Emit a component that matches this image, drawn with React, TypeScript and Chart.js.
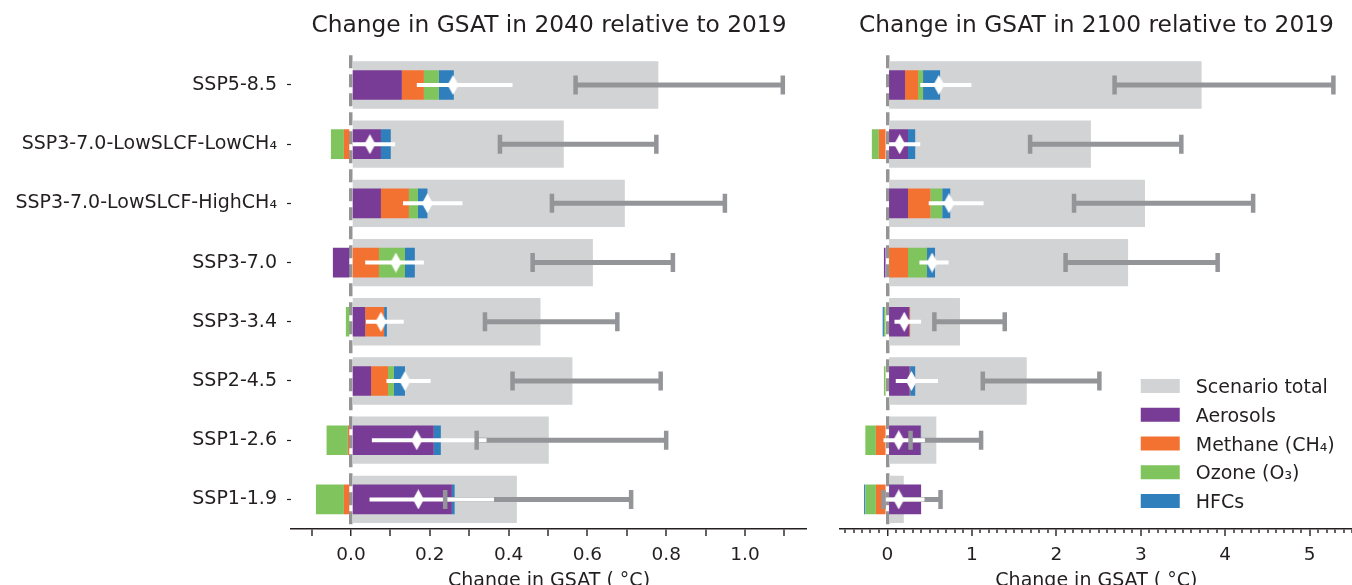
import React, { useEffect, useRef } from 'react';
import { Chart, registerables } from 'chart.js';

Chart.register(...registerables);

// ---------- data ----------
const categories = [
  'SSP5-8.5',
  'SSP3-7.0-LowSLCF-LowCH₄',
  'SSP3-7.0-LowSLCF-HighCH₄',
  'SSP3-7.0',
  'SSP3-3.4',
  'SSP2-4.5',
  'SSP1-2.6',
  'SSP1-1.9',
];

const legendLabels = ['Scenario total', 'Aerosols', 'Methane (CH₄)', 'Ozone (O₃)', 'HFCs'];

// 2040 relative to 2019
const total2040 = [0.78, 0.54, 0.695, 0.614, 0.481, 0.562, 0.502, 0.421];
const aer2040 = [0.129, 0.076, 0.076, -0.046, 0.036, 0.051, 0.21, 0.256];
const ch4_2040 = [0.056, -0.018, 0.071, 0.071, 0.048, 0.043, -0.008, -0.018];
const o3_2040 = [0.038, -0.033, 0.023, 0.066, -0.013, 0.015, -0.054, -0.071];
const hfc2040 = [0.038, 0.025, 0.024, 0.025, 0.007, 0.028, 0.018, 0.007];
const net2040 = [0.259, 0.048, 0.194, 0.114, 0.076, 0.137, 0.167, 0.171];
const slcfLo2040 = [0.167, 0.004, 0.132, 0.036, 0.038, 0.09, 0.053, 0.047];
const slcfHi2040 = [0.41, 0.112, 0.283, 0.185, 0.134, 0.202, 0.344, 0.363];
const totLo2040 = [0.57, 0.378, 0.51, 0.461, 0.34, 0.41, 0.319, 0.239];
const totHi2040 = [1.096, 0.775, 0.949, 0.817, 0.676, 0.786, 0.8, 0.711];

// 2100 relative to 2019
const total2100 = [3.72, 2.41, 3.05, 2.85, 0.86, 1.65, 0.58, 0.195];
const aer2100 = [0.21, 0.245, 0.245, -0.04, 0.26, 0.265, 0.395, 0.4];
const ch4_2100 = [0.154, -0.1, 0.265, 0.245, 0.01, 0.005, -0.135, -0.135];
const o3_2100 = [0.059, -0.083, 0.14, 0.225, -0.04, -0.04, -0.125, -0.125];
const hfc2100 = [0.202, 0.085, 0.095, 0.095, -0.015, 0.06, 0.005, -0.015];
const net2100 = [0.61, 0.146, 0.73, 0.53, 0.2, 0.285, 0.135, 0.135];
const slcfLo2100 = [0.39, 0.0, 0.49, 0.38, 0.085, 0.1, -0.045, -0.03];
const slcfHi2100 = [0.995, 0.39, 1.14, 0.725, 0.4, 0.6, 0.445, 0.44];
const totLo2100 = [2.69, 1.69, 2.21, 2.11, 0.557, 1.13, 0.275, -0.045];
const totHi2100 = [5.28, 3.48, 4.33, 3.91, 1.39, 2.51, 1.11, 0.63];

const titles = ['Change in GSAT in 2040 relative to 2019', 'Change in GSAT in 2100 relative to 2019'];
const xTitle = 'Change in GSAT ( °C)';
const xLabels2040 = ['0.0', '0.2', '0.4', '0.6', '0.8', '1.0'];
const xLabels2100 = ['0', '1', '2', '3', '4', '5'];

// ---------- style ----------
const FONT = 'DejaVu Sans';
const TEXT = '#231f20';
const COL = {
  total: '#d1d3d4',
  aer: '#783c96',
  ch4: '#f37232',
  o3: '#80c45e',
  hfc: '#2f7fbd',
  err: '#939598',
  zero: 'rgba(0,0,0,0.42)',
};

function makeDiamond(): HTMLCanvasElement {
  const c = document.createElement('canvas');
  c.width = 11;
  c.height = 20;
  const g = c.getContext('2d')!;
  g.fillStyle = '#ffffff';
  g.beginPath();
  g.moveTo(5.5, 0);
  g.lineTo(11, 10);
  g.lineTo(5.5, 20);
  g.lineTo(0, 10);
  g.closePath();
  g.fill();
  return c;
}

const boxLegend = {
  id: 'boxLegend',
  afterDraw(chart: any) {
    const { ctx, chartArea } = chart;
    const items = chart.data.datasets.slice(0, legendLabels.length);
    ctx.save();
    ctx.font = `19px "${FONT}"`;
    ctx.textAlign = 'left';
    ctx.textBaseline = 'alphabetic';
    items.forEach((ds: any, i: number) => {
      const cy = chartArea.bottom - 28 - (items.length - 1 - i) * 28.75;
      const bx = chartArea.right - 212;
      ctx.fillStyle = ds.backgroundColor;
      ctx.fillRect(bx, cy - 7, 39, 14);
      ctx.fillStyle = TEXT;
      ctx.fillText(ds.label, bx + 55, cy + 7);
    });
    ctx.restore();
  },
};

type Panel = {
  total: number[]; aer: number[]; ch4: number[]; o3: number[]; hfc: number[];
  net: number[]; slcfLo: number[]; slcfHi: number[]; totLo: number[]; totHi: number[];
  title: string; xLabels: string[]; min: number; max: number; step: number;
  showY: boolean; yWidth: number; majorLen: number; minorLen: number;
  padding: { left: number; right: number; top: number; bottom: number };
  legend: boolean;
};

const panel2040: Panel = {
  total: total2040, aer: aer2040, ch4: ch4_2040, o3: o3_2040, hfc: hfc2040,
  net: net2040, slcfLo: slcfLo2040, slcfHi: slcfHi2040, totLo: totLo2040, totHi: totHi2040,
  title: titles[0], xLabels: xLabels2040, min: -0.1523, max: 1.1574, step: 0.1,
  showY: true, yWidth: 291, majorLen: 7, minorLen: 7,
  padding: { left: 0, right: 13, top: 0, bottom: 0 }, legend: false,
};

const panel2100: Panel = {
  total: total2100, aer: aer2100, ch4: ch4_2100, o3: o3_2100, hfc: hfc2100,
  net: net2100, slcfLo: slcfLo2100, slcfHi: slcfHi2100, totLo: totLo2100, totHi: totHi2100,
  title: titles[1], xLabels: xLabels2100, min: -0.56, max: 5.509, step: 0.1,
  showY: false, yWidth: 0, majorLen: 7, minorLen: 3.5,
  padding: { left: 20, right: 0, top: 0, bottom: 0 }, legend: true,
};

function labelFor(p: Panel, v: number): string {
  const hit = p.xLabels.find((l) => Math.abs(parseFloat(l) - v) < 1e-6);
  return hit === undefined ? '' : hit;
}

function makeConfig(p: Panel, diamond: HTMLCanvasElement): any {
  const capStyle = {
    type: 'line',
    showLine: false,
    pointStyle: 'line',
    pointRotation: 90,
    pointRadius: 9.5,
    pointBorderWidth: 4.5,
    pointBorderColor: COL.err,
    pointBackgroundColor: COL.err,
    indexAxis: 'y',
    order: 4,
  };
  const comp = (label: string, data: number[], color: string, order: number) => ({
    type: 'bar', label, data, backgroundColor: color, stack: 'comp', grouped: false,
    barPercentage: 0.5, categoryPercentage: 1, borderWidth: 0, order, indexAxis: 'y',
  });
  const isZero = (c: any) => c.tick && Math.abs(c.tick.value) < 1e-9;
  const isMajor = (c: any) => c.tick && labelFor(p, c.tick.value) !== '';
  return {
    type: 'bar',
    data: {
      labels: categories,
      datasets: [
        { type: 'bar', label: legendLabels[0], data: p.total, backgroundColor: COL.total, grouped: false,
          barPercentage: 0.8, categoryPercentage: 1, borderWidth: 0, order: 20, indexAxis: 'y' },
        comp(legendLabels[1], p.aer, COL.aer, 11),
        comp(legendLabels[2], p.ch4, COL.ch4, 12),
        comp(legendLabels[3], p.o3, COL.o3, 13),
        comp(legendLabels[4], p.hfc, COL.hfc, 14),
        { type: 'bar', label: 'Scenario range', data: p.totLo.map((lo, i) => [lo, p.totHi[i]]),
          backgroundColor: COL.err, grouped: false, maxBarThickness: 5, borderWidth: 0, order: 6, indexAxis: 'y' },
        { type: 'bar', label: 'SLCF range', data: p.slcfLo.map((lo, i) => [lo, p.slcfHi[i]]),
          backgroundColor: '#ffffff', grouped: false, maxBarThickness: 4, borderWidth: 0, order: 5, indexAxis: 'y' },
        { ...capStyle, label: 'Scenario range low', data: p.totLo },
        { ...capStyle, label: 'Scenario range high', data: p.totHi },
        { type: 'line', label: 'SLCF net', data: p.net, showLine: false, pointStyle: diamond,
          pointRadius: 6, order: 3, indexAxis: 'y' },
      ],
    },
    options: {
      indexAxis: 'y',
      responsive: false,
      animation: false,
      events: [],
      layout: { padding: p.padding, autoPadding: false },
      plugins: {
        legend: { display: false },
        tooltip: { enabled: false },
        title: {
          display: true, text: p.title, fullSize: false, color: TEXT,
          font: { family: FONT, size: 23.3, weight: 'normal' },
          padding: { top: 12, bottom: 15.4 },
        },
      },
      scales: {
        x: {
          type: 'linear', min: p.min, max: p.max, z: 1,
          afterBuildTicks: (scale: any) => {
            const ticks = [];
            const n0 = Math.ceil(p.min / p.step - 1e-9);
            const n1 = Math.floor(p.max / p.step + 1e-9);
            for (let n = n0; n <= n1; n++) ticks.push({ value: Math.round(n * p.step * 1e6) / 1e6 });
            scale.ticks = ticks;
          },
          afterFit: (scale: any) => { scale.height = 71; },
          ticks: {
            autoSkip: false, maxRotation: 0, minRotation: 0, padding: 8, color: TEXT,
            font: { family: FONT, size: 18.5 },
            callback: (v: number) => labelFor(p, v),
          },
          grid: {
            drawOnChartArea: true, drawTicks: true, tickLength: p.majorLen, tickWidth: 1.4, tickColor: TEXT,
            color: (c: any) => (isZero(c) ? COL.zero : 'rgba(0,0,0,0)'),
            lineWidth: (c: any) => (isZero(c) ? 3.5 : 0),
            tickBorderDash: (c: any) => (isMajor(c) || p.minorLen >= p.majorLen ? [] : [p.minorLen, 40]),
          },
          border: { display: true, color: TEXT, width: 1.6, dash: [13, 6] },
          title: {
            display: true, text: xTitle, color: TEXT,
            font: { family: FONT, size: 19 },
            padding: { top: 0, bottom: 8 },
          },
        },
        y: {
          type: 'category', offset: true, display: p.showY,
          afterFit: (scale: any) => { if (p.showY) scale.width = p.yWidth; },
          ticks: { color: TEXT, font: { family: FONT, size: 19 }, padding: 10, autoSkip: false },
          grid: { drawOnChartArea: false, drawTicks: true, tickLength: 4, tickWidth: 1.2, tickColor: TEXT, offset: false },
          border: { display: false },
        },
      },
    },
    plugins: p.legend ? [boxLegend] : [],
  };
}

export default function App() {
  const leftRef = useRef<HTMLCanvasElement>(null);
  const rightRef = useRef<HTMLCanvasElement>(null);
  useEffect(() => {
    const diamond = makeDiamond();
    const c1 = new Chart(leftRef.current!, makeConfig(panel2040, diamond));
    const c2 = new Chart(rightRef.current!, makeConfig(panel2100, diamond));
    return () => {
      c1.destroy();
      c2.destroy();
    };
  }, []);
  return (
    <div style={{ position: 'fixed', left: 0, top: 0, width: 1352, height: 585, overflow: 'hidden', background: '#ffffff' }}>
      <canvas ref={leftRef} width={820} height={600} style={{ position: 'absolute', left: 0, top: 0, width: 820, height: 600 }} />
      <canvas ref={rightRef} width={540} height={600} style={{ position: 'absolute', left: 820, top: 0, width: 540, height: 600 }} />
    </div>
  );
}
